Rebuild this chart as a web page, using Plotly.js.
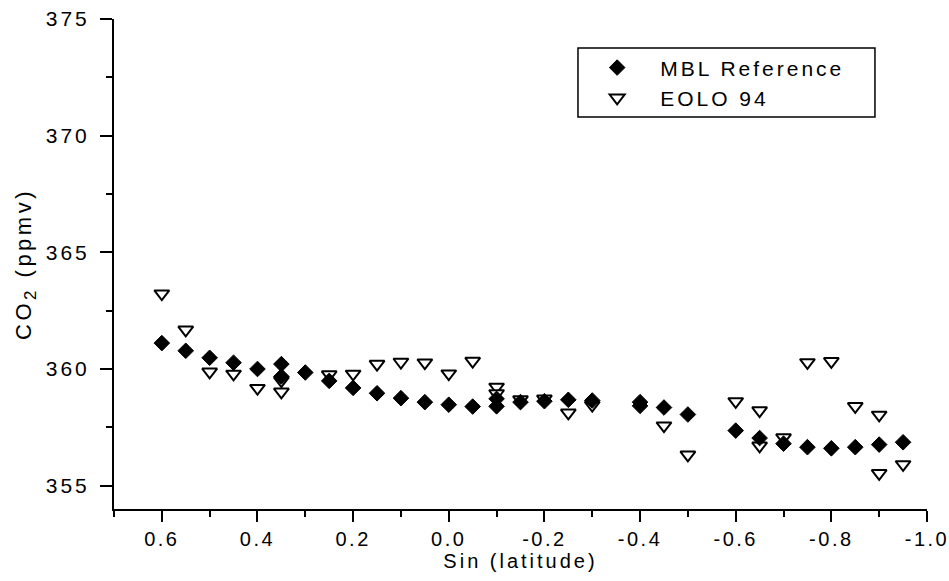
<!DOCTYPE html>
<html>
<head>
<meta charset="utf-8">
<script src="https://cdn.plot.ly/plotly-3.0.1.min.js"></script>
<style>
  html, body { margin: 0; padding: 0; background: #fff; }
  #chart { width: 949px; height: 581px; }
  #chart svg text { letter-spacing: 3px; }
  #chart g.xtick text { letter-spacing: 2.5px; }
  #chart text.ytitle { letter-spacing: 3.5px; }
  #chart g.legend g.scrollbox { clip-path: none !important; }
</style>
</head>
<body>
<div id="chart"></div>
<script>
// MBL Reference (filled diamonds)
var mblX = [0.6, 0.55, 0.5, 0.45, 0.4, 0.35, 0.35, 0.3, 0.25, 0.2, 0.15, 0.1, 0.05, 0.0, -0.05,
            -0.1, -0.1, -0.15, -0.2, -0.25, -0.3, -0.4, -0.4, -0.45, -0.5, -0.6, -0.65, -0.7,
            -0.75, -0.8, -0.85, -0.9, -0.95];
var mblY = [361.11, 360.78, 360.48, 360.27, 360.0, 360.21, 359.68, 359.85, 359.49, 359.19, 358.96,
            358.75, 358.58, 358.47, 358.39, 358.72, 358.40, 358.58, 358.62, 358.68, 358.65, 358.58,
            358.42, 358.35, 358.05, 357.36, 357.04, 356.80, 356.65, 356.60, 356.65, 356.76, 356.86];

// EOLO 94 (open down-triangles)
var eoloX = [0.6, 0.55, 0.5, 0.45, 0.4, 0.35, 0.35, 0.25, 0.2, 0.15, 0.1, 0.05, 0.0, -0.05,
             -0.1, -0.1, -0.15, -0.2, -0.25, -0.3, -0.45, -0.5, -0.6, -0.65, -0.65, -0.7,
             -0.75, -0.8, -0.85, -0.9, -0.9, -0.95];
var eoloY = [363.23, 361.68, 359.88, 359.79, 359.18, 359.50, 359.02, 359.76, 359.79, 360.21, 360.30,
             360.27, 359.80, 360.34, 359.23, 358.95, 358.69, 358.72, 358.12, 358.45, 357.57, 356.32,
             358.61, 358.22, 356.71, 357.06, 360.28, 360.33, 358.40, 358.03, 355.53, 355.91];

// Axis tick labels
var xTickVals = [0.6, 0.4, 0.2, 0.0, -0.2, -0.4, -0.6, -0.8, -1.0];
var xTickText = ['0.6', '0.4', '0.2', '0.0', '-0.2', '-0.4', '-0.6', '-0.8', '-1.0'];
var xMinorVals = [0.7, 0.5, 0.3, 0.1, -0.1, -0.3, -0.5, -0.7, -0.9];
var yTickVals = [355, 360, 365, 370, 375];
var yTickText = ['355', '360', '365', '370', '375'];

var FONT = 'Liberation Sans, Arial, Helvetica, sans-serif';

var traces = [
  {
    type: 'scatter', mode: 'markers', name: 'EOLO 94',
    x: eoloX, y: eoloY, legendrank: 2,
    marker: { symbol: 'triangle-down', size: 13, color: '#ffffff',
              line: { color: '#000000', width: 2 } },
    hoverinfo: 'x+y'
  },
  {
    type: 'scatter', mode: 'markers', name: 'MBL Reference',
    x: mblX, y: mblY, legendrank: 1,
    marker: { symbol: 'diamond', size: 12, color: '#000000',
              line: { color: '#000000', width: 1 } },
    hoverinfo: 'x+y'
  }
];

var layout = {
  width: 949, height: 581,
  margin: { l: 114, r: 22, t: 19, b: 72, pad: 0 },
  paper_bgcolor: '#ffffff', plot_bgcolor: '#ffffff',
  font: { family: FONT, size: 20, color: '#000000' },
  showlegend: true,
  legend: {
    x: 0.566, y: 0.942, xanchor: 'left', yanchor: 'top',
    bgcolor: 'rgba(0,0,0,0)', borderwidth: 0,
    itemwidth: 76,
    font: { family: FONT, size: 21, color: '#000000' }
  },
  shapes: [
    { type: 'rect', xref: 'paper', yref: 'paper',
      x0: 0.5707, x1: 0.936, y0: 0.80, y1: 0.9408,
      line: { color: '#000000', width: 1.5 }, fillcolor: 'rgba(0,0,0,0)', layer: 'above' }
  ],
  xaxis: {
    range: [0.7, -1.0], autorange: false,
    tickmode: 'array', tickvals: xTickVals, ticktext: xTickText,
    ticks: 'outside', ticklen: 11, tickwidth: 2, tickcolor: '#000000',
    minor: { tickmode: 'array', tickvals: xMinorVals, ticks: 'outside', ticklen: 6, tickwidth: 2, tickcolor: '#000000' },
    showline: true, linewidth: 2, linecolor: '#000000',
    showgrid: false, zeroline: false,
    tickfont: { family: FONT, size: 20, color: '#000000' },
    title: { text: 'Sin (latitude)', font: { family: FONT, size: 20, color: '#000000' }, standoff: 3 }
  },
  yaxis: {
    range: [354, 375], autorange: false,
    tickmode: 'array', tickvals: yTickVals, ticktext: yTickText,
    ticks: 'outside', ticklen: 12, tickwidth: 2, tickcolor: '#000000',
    ticklabelstandoff: 6,
    minor: { dtick: 2.5, tick0: 355, ticks: 'outside', ticklen: 6, tickwidth: 2, tickcolor: '#000000' },
    showline: true, linewidth: 2, linecolor: '#000000',
    showgrid: false, zeroline: false,
    tickfont: { family: FONT, size: 21, color: '#000000' },
    title: { text: 'CO<sub><span style="font-size:17px">2</span></sub> (ppmv)',
             font: { family: FONT, size: 22, color: '#000000' }, standoff: 17 }
  }
};

Plotly.newPlot('chart', traces, layout, { staticPlot: true, displayModeBar: false });
</script>
</body>
</html>
